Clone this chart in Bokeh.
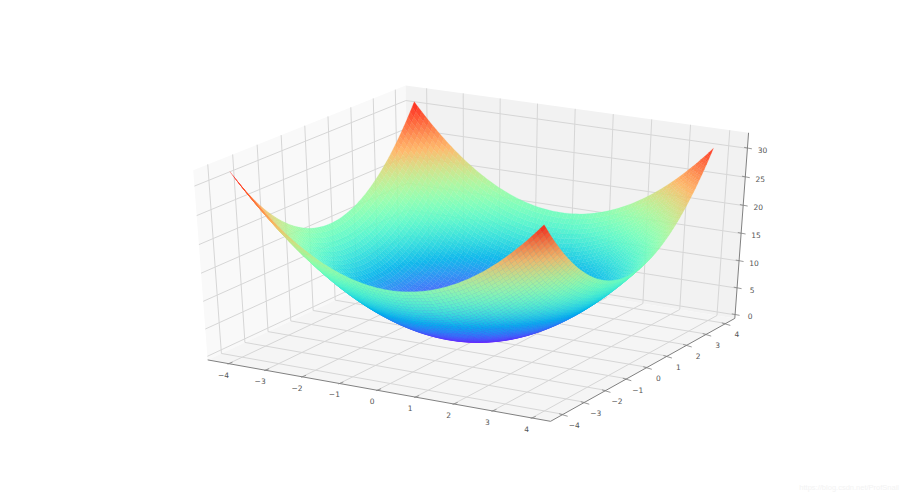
import numpy as np
from bokeh.plotting import figure
from bokeh.models import Range1d, ColumnDataSource
from bokeh.core.properties import value
from bokeh.embed import file_html
from bokeh.resources import INLINE

# ---- data ----
grid_x = [-4.0, -3.9, -3.8, -3.7, -3.6, -3.5, -3.4, -3.3, -3.2, -3.1,
          -3.0, -2.9, -2.8, -2.7, -2.6, -2.5, -2.4, -2.3, -2.2, -2.1,
          -2.0, -1.9, -1.8, -1.7, -1.6, -1.5, -1.4, -1.3, -1.2, -1.1,
          -1.0, -0.9, -0.8, -0.7, -0.6, -0.5, -0.4, -0.3, -0.2, -0.1,
          0.0, 0.1, 0.2, 0.3, 0.4, 0.5, 0.6, 0.7, 0.8, 0.9,
          1.0, 1.1, 1.2, 1.3, 1.4, 1.5, 1.6, 1.7, 1.8, 1.9,
          2.0, 2.1, 2.2, 2.3, 2.4, 2.5, 2.6, 2.7, 2.8, 2.9,
          3.0, 3.1, 3.2, 3.3, 3.4, 3.5, 3.6, 3.7, 3.8, 3.9]
grid_y = list(grid_x)
# height contributed along each horizontal direction at the grid stations
rise_x = [16.0, 15.21, 14.44, 13.69, 12.96, 12.25, 11.56, 10.89, 10.24, 9.61,
          9.0, 8.41, 7.84, 7.29, 6.76, 6.25, 5.76, 5.29, 4.84, 4.41,
          4.0, 3.61, 3.24, 2.89, 2.56, 2.25, 1.96, 1.69, 1.44, 1.21,
          1.0, 0.81, 0.64, 0.49, 0.36, 0.25, 0.16, 0.09, 0.04, 0.01,
          0.0, 0.01, 0.04, 0.09, 0.16, 0.25, 0.36, 0.49, 0.64, 0.81,
          1.0, 1.21, 1.44, 1.69, 1.96, 2.25, 2.56, 2.89, 3.24, 3.61,
          4.0, 4.41, 4.84, 5.29, 5.76, 6.25, 6.76, 7.29, 7.84, 8.41,
          9.0, 9.61, 10.24, 10.89, 11.56, 12.25, 12.96, 13.69, 14.44, 15.21]
rise_y = list(rise_x)
x_ticks = [-4, -3, -2, -1, 0, 1, 2, 3, 4]
y_ticks = [-4, -3, -2, -1, 0, 1, 2, 3, 4]
z_ticks = [0, 5, 10, 15, 20, 25, 30]
watermark = "https://blog.csdn.net/ProfSnail"

# ---- view ----
XLIM = (-4.395, 4.295)
YLIM = (-4.395, 4.295)
ZLIM = (0.0, 32.0)
PAD = 1 / 48
ELEV, AZIM, DIST = np.radians(30), np.radians(-60), 10.0

R = np.array([0.5, 0.5, 0.5])
E = R + DIST * np.array([np.cos(AZIM) * np.cos(ELEV), np.sin(AZIM) * np.cos(ELEV), np.sin(ELEV)])
n = (E - R) / np.linalg.norm(E - R)
u = np.cross([0, 0, 1], n)
u /= np.linalg.norm(u)
v = np.cross(n, u)


def to_cube(x, y, z):
    return np.stack([(np.asarray(x, float) - XLIM[0]) / (XLIM[1] - XLIM[0]),
                     (np.asarray(y, float) - YLIM[0]) / (YLIM[1] - YLIM[0]),
                     (np.asarray(z, float) - ZLIM[0]) / (ZLIM[1] - ZLIM[0])], axis=-1)


def view2d(c):
    d = c - E
    w = -(d @ n)
    return (d @ u) / w, (d @ v) / w, w


# calibration: box corners (cube coords) -> screen pixels in the reference
lo, hi = -PAD, 1 + PAD
cal = [((lo, lo, lo), (207, 360)), ((hi, lo, lo), (550, 421)), ((hi, hi, lo), (734.5, 317)),
       ((lo, lo, hi), (193, 169)), ((lo, hi, hi), (405, 85)), ((hi, hi, hi), (748, 133))]
cc = np.array([c[0] for c in cal], float)
pp = np.array([c[1] for c in cal], float)
a2, b2, _ = view2d(cc)
A = np.column_stack([a2, b2, np.ones(len(cal))])
MX, *_ = np.linalg.lstsq(A, pp[:, 0], rcond=None)
MY, *_ = np.linalg.lstsq(A, pp[:, 1], rcond=None)


def screen(x, y, z):
    a, b, w = view2d(to_cube(x, y, z))
    return MX[0] * a + MX[1] * b + MX[2], MY[0] * a + MY[1] * b + MY[2], w


def rainbow(t):
    t = np.clip(t, 0, 1)
    r = np.clip(np.abs(2 * t - 0.5), 0, 1)
    g = np.sin(np.pi * t)
    b = np.cos(np.pi * t / 2)
    return ["#%02x%02x%02x" % (int(rr * 255), int(gg * 255), int(bb * 255)) for rr, gg, bb in zip(r, g, b)]


p = figure(width=900, height=492, output_backend="svg", toolbar_location=None,
           x_range=Range1d(0, 900), y_range=Range1d(492, 0), min_border=0,
           background_fill_color="white", border_fill_color="white", outline_line_color=None)
p.axis.visible = False
p.grid.visible = False

# ---- panes ----
bx0, bx1 = XLIM[0] - (XLIM[1] - XLIM[0]) * PAD, XLIM[1] + (XLIM[1] - XLIM[0]) * PAD
by0, by1 = YLIM[0] - (YLIM[1] - YLIM[0]) * PAD, YLIM[1] + (YLIM[1] - YLIM[0]) * PAD
bz0, bz1 = ZLIM[0] - (ZLIM[1] - ZLIM[0]) * PAD, ZLIM[1] + (ZLIM[1] - ZLIM[0]) * PAD


def pane(pts, color):
    a = np.array(pts, float)
    sx, sy, _ = screen(a[:, 0], a[:, 1], a[:, 2])
    p.patch(list(sx), list(sy), fill_color=color, line_color=None)


pane([(bx0, by0, bz0), (bx0, by1, bz0), (bx0, by1, bz1), (bx0, by0, bz1)], "#f9f9f9")
pane([(bx0, by1, bz0), (bx1, by1, bz0), (bx1, by1, bz1), (bx0, by1, bz1)], "#f2f2f2")
pane([(bx0, by0, bz0), (bx1, by0, bz0), (bx1, by1, bz0), (bx0, by1, bz0)], "#f5f5f5")

# ---- grid ----
gx, gy = [], []


def poly(pts):
    a = np.array(pts, float)
    sx, sy, _ = screen(a[:, 0], a[:, 1], a[:, 2])
    gx.append(list(sx))
    gy.append(list(sy))


for t in x_ticks:
    poly([(t, by0, bz0), (t, by1, bz0), (t, by1, bz1)])
for t in y_ticks:
    poly([(bx1, t, bz0), (bx0, t, bz0), (bx0, t, bz1)])
for t in z_ticks:
    poly([(bx0, by0, t), (bx0, by1, t), (bx1, by1, t)])
p.multi_line(gx, gy, line_color="#d6d6d6", line_width=1.0)

# ---- axis lines, tick marks, labels ----
ax_x, ax_y = [], []
for a_, b_ in [((bx0, by0, bz0), (bx1, by0, bz0)), ((bx1, by0, bz0), (bx1, by1, bz0)), ((bx1, by1, bz0), (bx1, by1, bz1))]:
    s = np.array([a_, b_])
    sx, sy, _ = screen(s[:, 0], s[:, 1], s[:, 2])
    ax_x.append(list(sx))
    ax_y.append(list(sy))
p.multi_line(ax_x, ax_y, line_color="#808080", line_width=1.0)

tick_x, tick_y, lab_x, lab_y, lab_t = [], [], [], [], []


def fmt(t):
    return str(t).replace("-", "\u2212")


def add_ticks(ticks, pos, mark, off):
    for t in ticks:
        sx, sy, _ = screen(*pos(t))
        tick_x.append([float(sx + mark[0]), float(sx + mark[2])])
        tick_y.append([float(sy + mark[1]), float(sy + mark[3])])
        lab_x.append(float(sx + off[0]))
        lab_y.append(float(sy + off[1]))
        lab_t.append(fmt(t))


add_ticks(x_ticks, lambda t: (t, by0, bz0), (-1, 0.5, 4, -1.5), (-5, 11))
add_ticks(y_ticks, lambda t: (bx1, t, bz0), (-4, -0.5, 4.5, 2), (11, 11))
add_ticks(z_ticks, lambda t: (bx1, by1, t), (-3.3, -1, 4.5, 0.5), (15, 1.5))
p.multi_line(tick_x, tick_y, line_color="#808080", line_width=0.8)
p.text(lab_x, lab_y, text=lab_t, text_font=value("DejaVu Sans"), text_font_size="7.5px",
       text_color="#555555", text_align="center", text_baseline="middle")

# ---- surface ----
X, Y = np.meshgrid(grid_x, grid_y, indexing="ij")
Z = np.array(rise_x)[:, None] + np.array(rise_y)[None, :]
SX, SY, W = screen(X, Y, Z)
xs, ys, zm, dm = [], [], [], []
for i in range(len(grid_x) - 1):
    for j in range(len(grid_y) - 1):
        idx = [(i, j), (i + 1, j), (i + 1, j + 1), (i, j + 1)]
        xs.append([float(SX[q]) for q in idx])
        ys.append([float(SY[q]) for q in idx])
        zm.append(np.mean([Z[q] for q in idx]))
        dm.append(np.mean([W[q] for q in idx]))
order = np.argsort(dm)[::-1]
cols = rainbow(np.array(zm) / Z.max())
src = ColumnDataSource(dict(xs=[xs[k] for k in order], ys=[ys[k] for k in order], c=[cols[k] for k in order]))
p.patches("xs", "ys", source=src, fill_color="c", fill_alpha=0.92, line_color="c", line_alpha=0.3, line_width=0.6)

# ---- watermark ----
p.text([898.5], [491], text=[watermark], text_font=value("Liberation Sans"), text_font_size="7.5px",
       text_color="#f3f3f3", text_align="right", text_baseline="bottom")

open("out.html", "w").write(file_html(p, INLINE))
